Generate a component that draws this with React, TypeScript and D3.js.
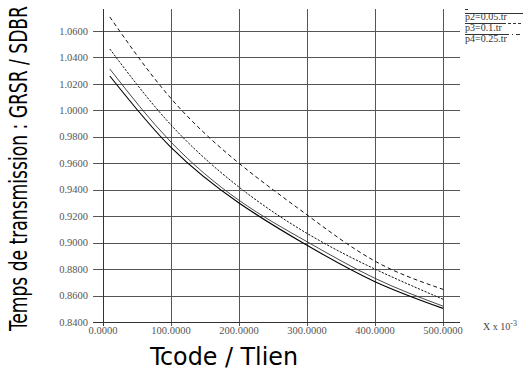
import React from "react";
import * as d3 from "d3";

const xValues = [10, 100, 200, 300, 400, 500];
const seriesP1 = [1.026, 0.972, 0.93, 0.898, 0.8705, 0.8503];
const seriesP2 = [1.0313, 0.976, 0.932, 0.9007, 0.873, 0.852];
const seriesP3 = [1.0464, 0.989, 0.942, 0.907, 0.88, 0.8572];
const seriesP4 = [1.0706, 1.009, 0.96, 0.921, 0.886, 0.8647];

const xTicks = [0, 100, 200, 300, 400, 500];
const yTicks = [0.84, 0.86, 0.88, 0.9, 0.92, 0.94, 0.96, 0.98, 1.0, 1.02, 1.04, 1.06];
const legendLabels = ["p2=0.05.tr", "p3=0.1.tr", "p4=0.25.tr"];

const W = 523;
const H = 369;

export default function App() {
  const x = d3.scaleLinear().domain([0, 525]).range([103, 460]);
  const y = d3.scaleLinear().domain([0.84, 1.06]).range([322, 31]);
  const yTop = 9;

  const line = d3
    .line<[number, number]>()
    .x((d) => x(d[0]))
    .y((d) => y(d[1]))
    .curve(d3.curveNatural);

  const series = [
    { vals: seriesP1, stroke: "#000", dash: undefined, w: 1.1 },
    { vals: seriesP2, stroke: "#333", dash: undefined, w: 0.9 },
    { vals: seriesP3, stroke: "#111", dash: "2.2,1.4", w: 1 },
    { vals: seriesP4, stroke: "#111", dash: "4,3", w: 1 },
  ];

  const serif = "'Liberation Serif', 'Times New Roman', serif";
  const narrow = "'Liberation Sans Narrow', 'DejaVu Sans Condensed', 'Liberation Sans', sans-serif";

  return (
    <svg
      width={W}
      height={H}
      style={{ position: "absolute", left: 0, top: 0, background: "#fff" }}
    >
      <rect x={0} y={0} width={W} height={H} fill="#fff" />
      {/* horizontal gridlines */}
      {yTicks.map((t) => (
        <line
          key={"h" + t}
          x1={x(0) - 10}
          x2={460}
          y1={Math.round(y(t)) + 0.5}
          y2={Math.round(y(t)) + 0.5}
          stroke="#555"
          strokeWidth={1}
        />
      ))}
      {/* vertical gridlines */}
      {xTicks.map((t) => (
        <line
          key={"v" + t}
          x1={Math.round(x(t)) + 0.5}
          x2={Math.round(x(t)) + 0.5}
          y1={yTop}
          y2={326}
          stroke="#555"
          strokeWidth={1}
        />
      ))}
      {/* axes */}
      <line x1={103.5} x2={103.5} y1={yTop} y2={326} stroke="#333" strokeWidth={1} />
      <line x1={93} x2={460} y1={322.5} y2={322.5} stroke="#333" strokeWidth={1} />

      {/* y tick labels */}
      {yTicks.map((t) => (
        <text
          key={"yl" + t}
          x={88}
          y={y(t)}
          dy="0.35em"
          textAnchor="end"
          fontFamily={serif}
          fontSize={10.5}
          fill="#555"
        >
          {t.toFixed(4)}
        </text>
      ))}
      {/* x tick labels */}
      {xTicks.map((t) => (
        <text
          key={"xl" + t}
          x={x(t)}
          y={334}
          textAnchor="middle"
          fontFamily={serif}
          fontSize={10.5}
          fill="#555"
        >
          {t.toFixed(4)}
        </text>
      ))}
      <text x={483} y={330} fontFamily={serif} fontSize={10} fill="#444">
        X x 10
        <tspan dy={-4} fontSize={8}>
          -3
        </tspan>
      </text>

      {/* curves */}
      {series.map((s, i) => (
        <path
          key={"s" + i}
          d={line(xValues.map((xv, j) => [xv, s.vals[j]] as [number, number])) || ""}
          fill="none"
          stroke={s.stroke}
          strokeWidth={s.w}
          strokeDasharray={s.dash}
        />
      ))}

      {/* legend */}
      <line x1={465} x2={468} y1={9.5} y2={9.5} stroke="#333" />
      <line x1={465} x2={523} y1={13.5} y2={13.5} stroke="#333" />
      <text x={465} y={20} fontFamily={serif} fontSize={10} fill="#333">
        {legendLabels[0]}
      </text>
      <line x1={465} x2={503} y1={23.5} y2={23.5} stroke="#333" />
      <line x1={503} x2={523} y1={23.5} y2={23.5} stroke="#333" strokeDasharray="3,2" />
      <text x={465} y={31} fontFamily={serif} fontSize={10} fill="#333">
        {legendLabels[1]}
      </text>
      <line x1={465} x2={505} y1={34.5} y2={34.5} stroke="#333" />
      <line x1={505} x2={523} y1={34.5} y2={34.5} stroke="#333" strokeDasharray="4,3,1,3" />
      <text x={465} y={42} fontFamily={serif} fontSize={10} fill="#333">
        {legendLabels[2]}
      </text>

      {/* axis titles */}
      <text
        transform="translate(27,331) rotate(-90)"
        fontFamily={narrow}
        fontSize={25}
        fill="#000"
        textLength={325}
        lengthAdjust="spacingAndGlyphs"
      >
        Temps de transmission : GRSR / SDBR
      </text>
      <text
        x={150}
        y={365}
        fontFamily={narrow}
        fontSize={25}
        fill="#000"
        textLength={148}
        lengthAdjust="spacingAndGlyphs"
      >
        Tcode / Tlien
      </text>
    </svg>
  );
}
